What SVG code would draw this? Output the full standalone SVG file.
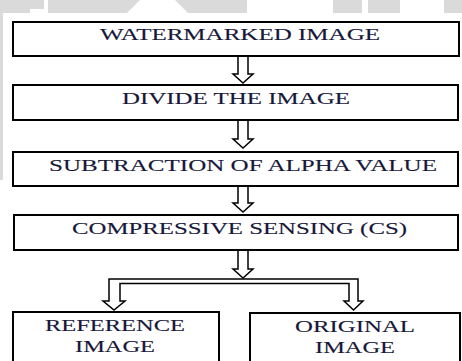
<svg xmlns="http://www.w3.org/2000/svg" width="462" height="361" viewBox="0 0 462 361">
  <style>
    .box { fill: #ffffff; stroke: #000000; stroke-width: 2; }
    .arrow { fill: #ffffff; stroke: #000000; stroke-width: 1.5; stroke-linejoin: miter; }
    .label { font-family: "Liberation Serif", "Times New Roman", serif; font-size: 16.5px; fill: #17173a; stroke: #17173a; stroke-width: 0.12; }
    .wm { fill: #dadada; }
  </style>

  <!-- page background with faint banner watermark -->
  <rect x="0" y="0" width="462" height="361" fill="#ffffff"/>
  <g id="watermark">
    <rect class="wm" x="0" y="0" width="462" height="13"/>
    <rect class="wm" x="0" y="0" width="3" height="180"/>
    <rect x="30" y="9" width="18" height="4" fill="#ffffff"/>
    <rect x="44" y="0" width="4" height="13" fill="#ffffff"/>
    <polygon points="127,13 140,0 175,0 188,13" fill="#ffffff"/>
    <rect x="247" y="0" width="86" height="13" fill="#ffffff"/>
    <rect x="362" y="0" width="6" height="13" fill="#ffffff"/>
    <rect x="400" y="0" width="44" height="13" fill="#ffffff"/>
  </g>

  <g id="connectors">
    <!-- single hollow arrows between stacked steps -->
    <path class="arrow" d="M238,57 V74 H233 L243,83 L253,74 H248 V57"/>
    <path class="arrow" d="M238,121 V139 H233 L243,148 L253,139 H248 V121"/>
    <path class="arrow" d="M238,187 V203 H233 L243,212 L253,203 H248 V187"/>
    <path class="arrow" d="M238,251 V269 H233 L243,278 L253,269 H248 V251"/>
    <!-- split bar feeding the two result boxes -->
    <path class="arrow" d="M109,279 H358 V301 H363 L353.5,310 L344,301 H349 V283.5 H120 V301 H125 L114,310 L103,301 H109 Z"/>
  </g>

  <g id="watermarked-image">
    <rect class="box" x="13" y="22" width="446" height="34"/>
    <text class="label" x="100" y="40" textLength="280" lengthAdjust="spacingAndGlyphs">WATERMARKED IMAGE</text>
  </g>

  <g id="divide-image">
    <rect class="box" x="13" y="85" width="445" height="35"/>
    <text class="label" x="122" y="104" textLength="228" lengthAdjust="spacingAndGlyphs">DIVIDE THE IMAGE</text>
  </g>

  <g id="subtract-alpha">
    <rect class="box" x="13" y="152" width="445" height="34"/>
    <text class="label" x="49" y="171" textLength="388" lengthAdjust="spacingAndGlyphs">SUBTRACTION OF ALPHA VALUE</text>
  </g>

  <g id="compressive-sensing">
    <rect class="box" x="14" y="215" width="444" height="35"/>
    <text class="label" x="72" y="234" textLength="335" lengthAdjust="spacingAndGlyphs">COMPRESSIVE SENSING (CS)</text>
  </g>

  <g id="reference-image">
    <rect class="box" x="13" y="312" width="206" height="60"/>
    <text class="label" x="45" y="331" textLength="140" lengthAdjust="spacingAndGlyphs">REFERENCE</text>
    <text class="label" x="75" y="352" textLength="80" lengthAdjust="spacingAndGlyphs">IMAGE</text>
  </g>

  <g id="original-image">
    <rect class="box" x="250" y="313" width="210" height="60"/>
    <text class="label" x="295" y="332" textLength="120" lengthAdjust="spacingAndGlyphs">ORIGINAL</text>
    <text class="label" x="315" y="353" textLength="80" lengthAdjust="spacingAndGlyphs">IMAGE</text>
  </g>
</svg>
